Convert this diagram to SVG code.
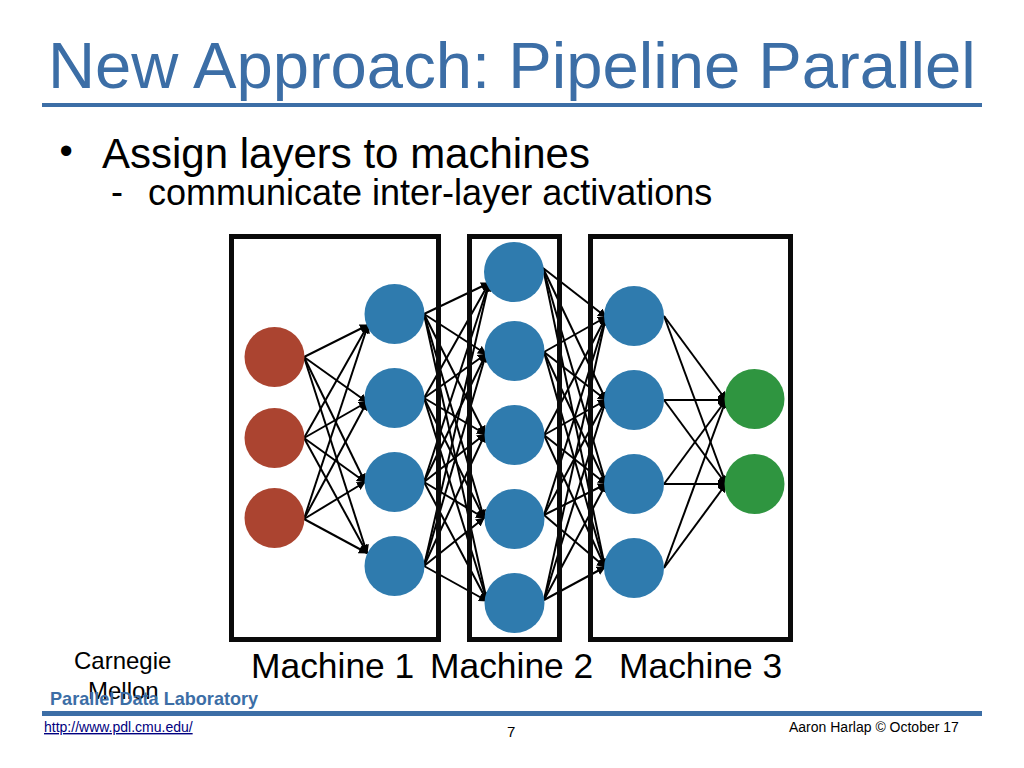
<svg xmlns="http://www.w3.org/2000/svg" width="1024" height="768" viewBox="0 0 1024 768">
<style>
text{font-family:"Liberation Sans",Arial,sans-serif;fill:#000}
.rule{fill:#3c6ea6}
.box{fill:none;stroke:#0a0a0a;stroke-width:5}
.in{fill:#ab4430}.hid{fill:#2f7bae}.out{fill:#2f9540}
#connectors line{stroke:#000;stroke-width:2;marker-end:url(#arrow)}
.m{font-size:35.4px}
</style>
<defs><marker id="arrow" markerUnits="userSpaceOnUse" markerWidth="9" markerHeight="9" refX="8" refY="4.500" orient="auto"><path d="M0 0L9 4.500L0 9Z" fill="#000"/></marker></defs>
<rect width="1024" height="768" fill="#fff"/>
<text x="48" y="88" font-size="65.2" style="fill:#3c6ea6">New Approach: Pipeline Parallel</text>
<rect class="rule" x="42" y="103" width="940" height="4"/>
<text x="59.500" y="164" font-size="38">•</text>
<text x="102" y="168" font-size="42">Assign layers to machines</text>
<text x="111" y="204" font-size="36">-</text>
<text x="148" y="205" font-size="36">communicate inter-layer activations</text>
<g id="connectors">
<line x1="304" y1="357" x2="368" y2="325"/><line x1="304" y1="357" x2="367" y2="402"/><line x1="304" y1="357" x2="365" y2="482"/><line x1="304" y1="357" x2="367" y2="553"/>
<line x1="304" y1="438" x2="368" y2="325"/><line x1="304" y1="438" x2="367" y2="402"/><line x1="304" y1="438" x2="365" y2="482"/><line x1="304" y1="438" x2="367" y2="553"/>
<line x1="304" y1="519" x2="368" y2="325"/><line x1="304" y1="519" x2="367" y2="402"/><line x1="304" y1="519" x2="365" y2="482"/><line x1="304" y1="519" x2="367" y2="553"/>
<line x1="424" y1="314" x2="489" y2="283"/><line x1="424" y1="314" x2="486" y2="354"/><line x1="424" y1="314" x2="485" y2="434"/><line x1="424" y1="314" x2="484" y2="518"/><line x1="424" y1="314" x2="487" y2="601"/>
<line x1="424" y1="398" x2="489" y2="283"/><line x1="424" y1="398" x2="486" y2="354"/><line x1="424" y1="398" x2="485" y2="434"/><line x1="424" y1="398" x2="484" y2="518"/><line x1="424" y1="398" x2="487" y2="601"/>
<line x1="424" y1="482" x2="489" y2="283"/><line x1="424" y1="482" x2="486" y2="354"/><line x1="424" y1="482" x2="485" y2="434"/><line x1="424" y1="482" x2="484" y2="518"/><line x1="424" y1="482" x2="487" y2="601"/>
<line x1="424" y1="566" x2="489" y2="283"/><line x1="424" y1="566" x2="486" y2="354"/><line x1="424" y1="566" x2="485" y2="434"/><line x1="424" y1="566" x2="484" y2="518"/><line x1="424" y1="566" x2="487" y2="601"/>
<line x1="543" y1="268" x2="606" y2="317"/><line x1="543" y1="268" x2="606" y2="400"/><line x1="543" y1="268" x2="606" y2="484"/><line x1="543" y1="268" x2="605" y2="567"/>
<line x1="544" y1="352" x2="606" y2="317"/><line x1="544" y1="352" x2="606" y2="400"/><line x1="544" y1="352" x2="606" y2="484"/><line x1="544" y1="352" x2="605" y2="567"/>
<line x1="544" y1="435" x2="606" y2="317"/><line x1="544" y1="435" x2="606" y2="400"/><line x1="544" y1="435" x2="606" y2="484"/><line x1="544" y1="435" x2="605" y2="567"/>
<line x1="544" y1="515" x2="606" y2="317"/><line x1="544" y1="515" x2="606" y2="400"/><line x1="544" y1="515" x2="606" y2="484"/><line x1="544" y1="515" x2="605" y2="567"/>
<line x1="544" y1="600" x2="606" y2="317"/><line x1="544" y1="600" x2="606" y2="400"/><line x1="544" y1="600" x2="606" y2="484"/><line x1="544" y1="600" x2="605" y2="567"/>
<line x1="664" y1="316" x2="726" y2="400"/><line x1="664" y1="316" x2="726" y2="484"/>
<line x1="664" y1="400" x2="726" y2="400"/><line x1="664" y1="400" x2="726" y2="484"/>
<line x1="664" y1="484" x2="726" y2="400"/><line x1="664" y1="484" x2="726" y2="484"/>
<line x1="664" y1="568" x2="726" y2="400"/><line x1="664" y1="568" x2="726" y2="484"/>
</g>
<g id="machine-1-box"><rect class="box" x="231.500" y="236.500" width="207" height="403"/></g>
<g id="machine-2-box"><rect class="box" x="469.500" y="236.500" width="90" height="403"/></g>
<g id="machine-3-box"><rect class="box" x="590.500" y="236.500" width="200" height="403"/></g>
<g id="input-1"><circle class="in" cx="274.500" cy="357" r="30"/></g>
<g id="input-2"><circle class="in" cx="274.500" cy="438" r="30"/></g>
<g id="input-3"><circle class="in" cx="274.500" cy="518" r="30"/></g>
<g id="a1"><circle class="hid" cx="394.500" cy="314" r="30"/></g>
<g id="a2"><circle class="hid" cx="394.500" cy="398" r="30"/></g>
<g id="a3"><circle class="hid" cx="394.500" cy="482" r="30"/></g>
<g id="a4"><circle class="hid" cx="394.500" cy="566" r="30"/></g>
<g id="b1"><circle class="hid" cx="514" cy="272" r="30"/></g>
<g id="b2"><circle class="hid" cx="514.500" cy="351" r="30"/></g>
<g id="b3"><circle class="hid" cx="514.500" cy="435" r="30"/></g>
<g id="b4"><circle class="hid" cx="514.500" cy="519" r="30"/></g>
<g id="b5"><circle class="hid" cx="514.500" cy="603" r="30"/></g>
<g id="c1"><circle class="hid" cx="634" cy="316" r="30"/></g>
<g id="c2"><circle class="hid" cx="634" cy="400" r="30"/></g>
<g id="c3"><circle class="hid" cx="634" cy="484" r="30"/></g>
<g id="c4"><circle class="hid" cx="634" cy="568" r="30"/></g>
<g id="out-1"><circle class="out" cx="754.500" cy="399" r="30"/></g>
<g id="out-2"><circle class="out" cx="754.500" cy="484" r="30"/></g>
<text class="m" x="251" y="678">Machine 1</text>
<text class="m" x="430" y="678">Machine 2</text>
<text class="m" x="619" y="678">Machine 3</text>
<text x="74" y="669" font-size="24">Carnegie</text>
<text x="88" y="699" font-size="24">Mellon</text>
<text x="50" y="705" font-size="18.100" font-weight="700" style="fill:#3c6ea6">Parallel Data Laboratory</text>
<rect class="rule" x="42" y="711" width="940" height="5"/>
<text x="44" y="732" font-size="14" style="fill:#000080" text-decoration="underline">http://www.pdl.cmu.edu/</text>
<text x="507" y="737" font-size="15">7</text>
<text x="789" y="732" font-size="14">Aaron Harlap © October 17</text>
</svg>
